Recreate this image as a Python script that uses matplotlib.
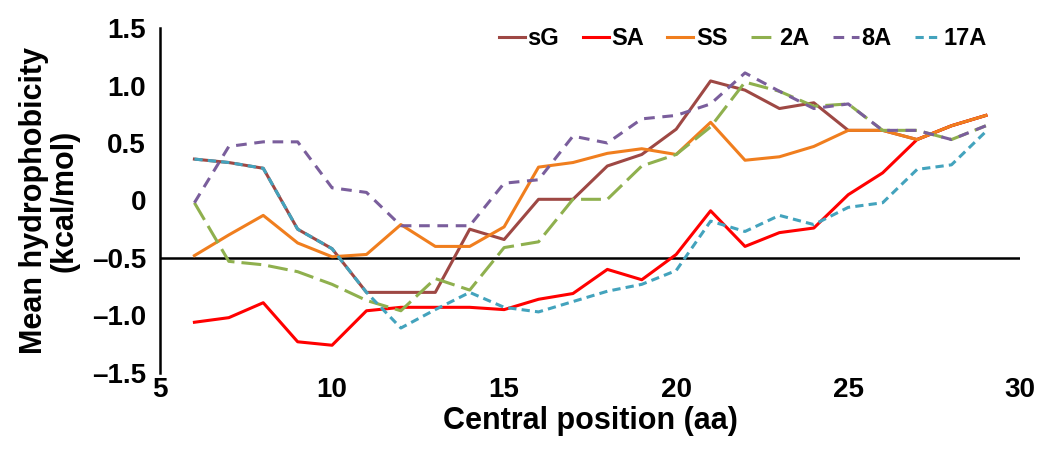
import numpy as np
import matplotlib.pyplot as plt

plt.rcParams['font.family'] = ['Liberation Sans', 'DejaVu Sans']
plt.rcParams['font.weight'] = 'bold'

# pozycja centralna (aa)
pos = np.arange(6, 30)

sG = [0.36, 0.33, 0.28, -0.25, -0.42, -0.80, -0.80, -0.80, -0.25, -0.34, 0.01, 0.01,
      0.30, 0.40, 0.62, 1.04, 0.96, 0.80, 0.85, 0.61, 0.61, 0.53, 0.65, 0.74]
SA = [-1.06, -1.02, -0.89, -1.23, -1.26, -0.96, -0.93, -0.93, -0.93, -0.95, -0.86, -0.81,
      -0.60, -0.69, -0.47, -0.09, -0.40, -0.28, -0.24, 0.05, 0.24, 0.53, 0.65, 0.74]
SS = [-0.48, -0.30, -0.13, -0.37, -0.49, -0.47, -0.21, -0.40, -0.40, -0.23, 0.29, 0.33,
      0.41, 0.45, 0.40, 0.68, 0.35, 0.38, 0.47, 0.61, 0.61, 0.53, 0.65, 0.74]
A2 = [-0.02, -0.53, -0.56, -0.62, -0.73, -0.87, -0.96, -0.68, -0.78, -0.41, -0.36, 0.01,
      0.01, 0.30, 0.40, 0.64, 1.03, 0.95, 0.82, 0.84, 0.61, 0.61, 0.53, 0.65]
A8 = [-0.02, 0.47, 0.51, 0.51, 0.11, 0.07, -0.22, -0.22, -0.22, 0.15, 0.18, 0.56,
      0.50, 0.71, 0.74, 0.84, 1.11, 0.95, 0.80, 0.84, 0.61, 0.61, 0.53, 0.65]
A17 = [0.36, 0.33, 0.28, -0.25, -0.42, -0.80, -1.11, -0.95, -0.80, -0.93, -0.97, -0.88,
       -0.79, -0.73, -0.61, -0.18, -0.27, -0.13, -0.21, -0.06, -0.02, 0.27, 0.31, 0.60]

yticks = [-1.5, -1.0, -0.5, 0, 0.5, 1.0, 1.5]
ylabels = ['\u20131.5', '\u20131.0', '\u20130.5', '0', '0.5', '1.0', '1.5']

fig = plt.figure(figsize=(10.39, 4.53), dpi=100)
ax = fig.add_axes([0.154, 0.177, 0.828, 0.761])

ax.plot(pos, sG, color='#9E4844', lw=2.2, label='sG')
ax.plot(pos, SA, color='#FF0000', lw=2.2, label='SA')
ax.plot(pos, SS, color='#F07E1E', lw=2.2, label='SS')
ax.plot(pos, A2, color='#8FB04E', lw=2.2, dashes=(6.5, 2.3), label='2A')
ax.plot(pos, A8, color='#7A5E9C', lw=2.2, dashes=(3.5, 2.5), label='8A')
ax.plot(pos, A17, color='#43A3BD', lw=2.2, dashes=(2.7, 1.7), label='17A')

ax.axhline(-0.5, color='black', lw=1.8, zorder=1)

ax.set_xlim(5, 30)
ax.set_ylim(-1.5, 1.5)
ax.set_xticks([5, 10, 15, 20, 25, 30])
ax.set_yticks(yticks)
ax.set_yticklabels(ylabels)
ax.tick_params(length=0, labelsize=20)
ax.tick_params(axis='y', pad=10)
ax.tick_params(axis='x', pad=3)

for s in ['top', 'right', 'bottom']:
    ax.spines[s].set_visible(False)
ax.spines['left'].set_linewidth(1.8)

ax.set_xlabel('Central position (aa)', fontsize=22, fontweight='bold', labelpad=2)
ax.set_ylabel('Mean hydrophobicity\n(kcal/mol)', fontsize=22, fontweight='bold',
              linespacing=1.05)
ax.yaxis.set_label_coords(-0.093, 0.5)

fig.legend(loc='center', bbox_to_anchor=(0.715, 0.915), ncol=6, frameon=False,
           fontsize=17, handlelength=1.1, handletextpad=0.1, columnspacing=1.0)

fig.savefig('out.png', dpi=100)
